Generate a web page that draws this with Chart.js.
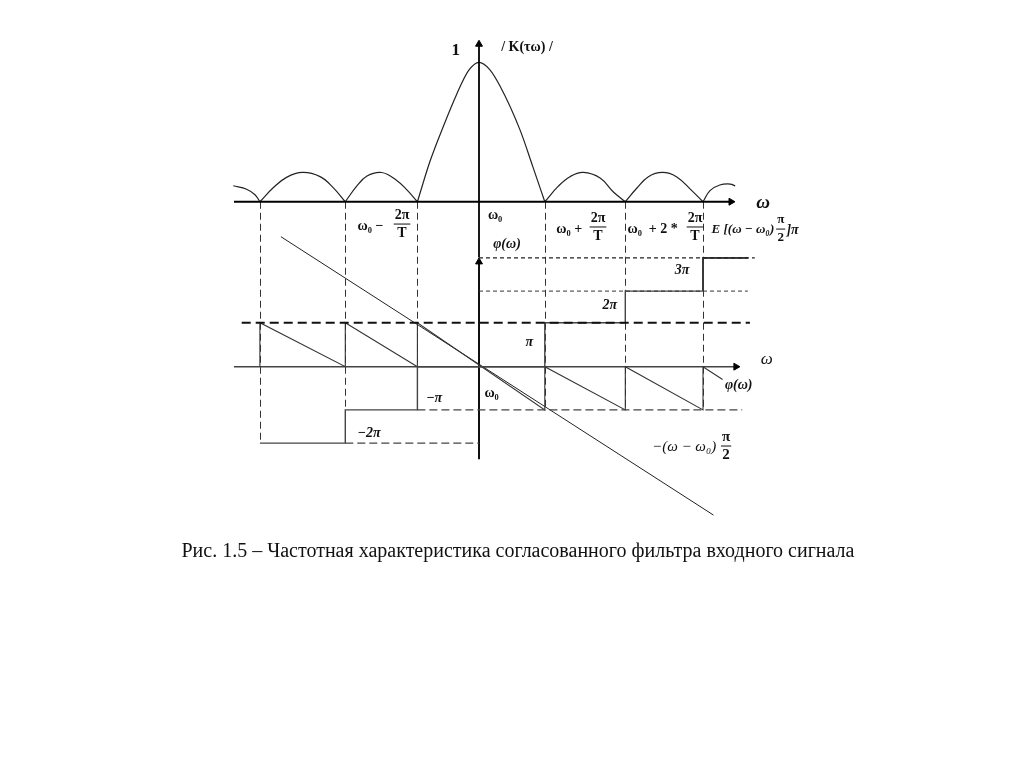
<!DOCTYPE html>
<html>
<head>
<meta charset="utf-8">
<script src="https://cdn.jsdelivr.net/npm/chart.js@4.4.0/dist/chart.umd.min.js"></script>
<style>
    html, body { margin: 0; padding: 0; background: #fff; }
    #wrap { position: relative; width: 1024px; height: 767px; }
    #c { position: absolute; left: 0; top: 0; }
    #caption {
        position: absolute; left: 0; top: 539px; width: 1036px;
        text-align: center; font-family: "Liberation Serif", serif; font-size: 20px; color: #111;
    }
</style>
</head>
<body>
<div id="wrap">
    <canvas id="c" width="1024" height="767"></canvas>
    <div id="caption">Рис. 1.5 – Частотная характеристика согласованного фильтра входного сигнала</div>
</div>
<script>
/* ── Datos ──────────────────────────────────────────────────────
   x: ω en unidades de 2π/T (ω0 = 0), |K| normalizado, φ en unidades de π (tal como está dibujado) */
const NULLS = [-3.13, -1.91, -0.88, 0, 0.94, 2.09, 3.2];

// |K(τω)| por lóbulos
const lobeFarLeft  = [[-3.51, 0.115], [-3.32, 0.09], [-3.2, 0.05], [-3.13, 0]];
const lobeLeft2    = [[-3.13, 0], [-2.94, 0.10], [-2.75, 0.175], [-2.52, 0.21], [-2.27, 0.18], [-2.08, 0.10], [-1.91, 0]];
const lobeLeft1    = [[-1.91, 0], [-1.75, 0.11], [-1.6, 0.185], [-1.39, 0.21], [-1.18, 0.155], [-1.03, 0.085], [-0.88, 0]];
const lobeMain     = [[-0.88, 0], [-0.7, 0.29], [-0.51, 0.54], [-0.32, 0.77], [-0.15, 0.94], [0, 1], [0.15, 0.95], [0.3, 0.83], [0.59, 0.51], [0.77, 0.25], [0.94, 0]];
const lobeRight1   = [[0.94, 0], [1.13, 0.11], [1.3, 0.18], [1.49, 0.21], [1.73, 0.17], [1.92, 0.07], [2.09, 0]];
const lobeRight2   = [[2.09, 0], [2.25, 0.095], [2.42, 0.18], [2.62, 0.21], [2.82, 0.18], [3.04, 0.08], [3.2, 0]];
const lobeFarRight = [[3.2, 0], [3.3, 0.08], [3.44, 0.12], [3.59, 0.127], [3.66, 0.113]];

// niveles de fase: −2π, −π, 0, π, 2π, 3π
const PHASE_LEVELS = [-1.91, -1.08, 0, 1.1, 1.89, 2.72];

// E[(ω − ω0)π/2]π  (escalera)
const stepX = [-3.13, -1.91, -0.88, 0.94, 2.09, 3.2, 3.84];
const stepY = [-1.91, -1.08, 0, 1.1, 1.89, 2.72, 2.72];

// φ(ω)  (diente de sierra)
const sawX = [-3.13, -3.13, -1.91, -1.91, -0.88, -0.88, 0.94, 0.94, 2.09, 2.09, 3.2, 3.2, 3.48];
const sawY = [0, 1.1, 0, 1.1, 0, 1.1, -1.08, 0, -1.08, 0, -1.08, 0, -0.32];

// −(ω − ω0)π/2
const rampX = [-2.83, 3.35];
const rampY = [3.25, -3.71];

// guías verticales: hasta qué nivel de fase bajan
const guideX      = [-3.13, -1.91, -0.88, 0.94, 2.09, 3.2];
const guideBottom = [-1.91, -1.91, -1.08, -1.08, -1.08, -1.08];

const F  = '"Liberation Serif", serif';
const B  = 'bold 14px ' + F;
const BI = 'bold italic 14px ' + F;

// textos: [texto, x, y, eje, fuente]
const TEXTS = [
    ['1',            -0.333,  1.083, 'yMag', 'bold 17px ' + F],
    ['/ K(τω) /',     0.686,  1.11,  'yMag', 'bold 14px ' + F],
    ['ω',             4.06,  -0.007, 'yMag', 'bold italic 19px ' + F],
    ['ω₀',            0.23,  -0.095, 'yMag', B],
    ['ω₀ −',         -1.55,  -0.174, 'yMag', B],
    ['ω₀ +',          1.29,  -0.196, 'yMag', B],
    ['ω₀  + 2 *',     2.48,  -0.196, 'yMag', B],
    ['E [(ω − ω₀)',   3.77,  -0.203, 'yMag', 'bold italic 13px ' + F],
    [']π',            4.48,  -0.203, 'yMag', BI],
    ['φ(ω)',          0.4,    3.07,  'yPhase', BI],
    ['3π',            2.9,    2.42,  'yPhase', BI],
    ['2π',            1.87,   1.54,  'yPhase', BI],
    ['π',             0.72,   0.62,  'yPhase', BI],
    ['−π',           -0.64,  -0.78,  'yPhase', BI],
    ['ω₀',            0.18,  -0.66,  'yPhase', B],
    ['−2π',          -1.57,  -1.66,  'yPhase', BI],
    ['ω',             4.11,   0.17,  'yPhase', 'italic 17px ' + F],
    ['φ(ω)',          3.71,  -0.46,  'yPhase', BI],
    ['−(ω − ω₀)',     2.93,  -2.01,  'yPhase', 'italic 15px ' + F]
];

// fracciones: [numerador, denominador, x, y, eje, fuente]
const FRACS = [
    ['2π', 'T', -1.1,   -0.16,  'yMag', B],
    ['2π', 'T',  1.7,   -0.181, 'yMag', B],
    ['2π', 'T',  3.086, -0.181, 'yMag', B],
    ['π',  '2',  4.31,  -0.196, 'yMag', 'bold 13px ' + F],
    ['π',  '2',  3.53,  -1.983, 'yPhase', 'bold 15px ' + F]
];

/* ── helpers ─────────────────────────────────────────────────── */
function line(pts, axis, style) {
    return Object.assign({
        type: 'line',
        data: pts.map(([x, y]) => ({ x, y })),
        yAxisID: axis,
        borderColor: '#222',
        borderWidth: 1,
        pointRadius: 0,
        fill: false,
        tension: 0
    }, style || {});
}
const zip = (a, b) => a.map((v, i) => [v, b[i]]);
const lvl = PHASE_LEVELS;

function arrow(rot) {
    return {
        pointRadius: [0, 4], pointStyle: 'triangle', pointRotation: rot,
        pointBackgroundColor: '#000', pointBorderColor: '#000', pointBorderWidth: 1
    };
}

const lobeStyle = { borderColor: '#222', borderWidth: 1.2, tension: 0.4 };

const datasets = [
    // guías horizontales discontinuas
    line([[-3.39, lvl[3]], [3.87, lvl[3]]], 'yPhase', { borderColor: '#111', borderWidth: 2, borderDash: [9, 5] }),
    line([[0, lvl[4]], [3.84, lvl[4]]], 'yPhase', { borderColor: '#333', borderWidth: 1, borderDash: [4, 3] }),
    line([[0, lvl[5]], [3.94, lvl[5]]], 'yPhase', { borderColor: '#222', borderWidth: 1.2, borderDash: [4, 3] }),
    line([[NULLS[2], lvl[1]], [3.76, lvl[1]]], 'yPhase', { borderColor: '#444', borderWidth: 1.2, borderDash: [8, 4] }),
    line([[NULLS[1], lvl[0]], [0, lvl[0]]], 'yPhase', { borderColor: '#444', borderWidth: 1.2, borderDash: [8, 4] }),

    // escalera, diente de sierra y recta
    line(zip(stepX, stepY), 'yPhase', { borderColor: '#444', borderWidth: 1.4, stepped: 'before' }),
    line([[3.2, lvl[4]], [3.2, lvl[5]], [3.84, lvl[5]]], 'yPhase', { borderColor: '#111', borderWidth: 1.8 }),
    line(zip(sawX, sawY), 'yPhase', { borderColor: '#333', borderWidth: 1.1 }),
    line(zip(rampX, rampY), 'yPhase', { borderColor: '#222', borderWidth: 1 }),

    // ejes
    line([[-3.5, 0], [3.6, 0]], 'yMag', Object.assign({ borderColor: '#000', borderWidth: 2 }, arrow(90))),
    line([[-3.5, 0], [3.67, 0]], 'yPhase', Object.assign({ borderColor: '#444', borderWidth: 1.6 }, arrow(90))),
    line([[0, -0.4], [0, 1.13]], 'yMag', Object.assign({ borderColor: '#000', borderWidth: 1.8 }, arrow(0))),
    line([[0, -2.315], [0, 2.62]], 'yPhase', Object.assign({ borderColor: '#111', borderWidth: 2 }, arrow(0))),

    // |K(τω)|
    line(lobeFarLeft, 'yMag', lobeStyle),
    line(lobeLeft2, 'yMag', lobeStyle),
    line(lobeLeft1, 'yMag', lobeStyle),
    line(lobeMain, 'yMag', { borderColor: '#222', borderWidth: 1.2, cubicInterpolationMode: 'monotone' }),
    line(lobeRight1, 'yMag', lobeStyle),
    line(lobeRight2, 'yMag', lobeStyle),
    line(lobeFarRight, 'yMag', lobeStyle)
];

/* ── guías verticales: del eje ω de |K| al nivel de fase ─────── */
const guidesPlugin = {
    id: 'guides',
    beforeDatasetsDraw(chart) {
        const { ctx, scales } = chart;
        ctx.save();
        ctx.strokeStyle = '#333';
        ctx.lineWidth = 1;
        ctx.setLineDash([7, 4]);
        guideX.forEach((gx, i) => {
            const px = Math.round(scales.x.getPixelForValue(gx)) + 0.5;
            ctx.beginPath();
            ctx.moveTo(px, scales.yMag.getPixelForValue(0));
            ctx.lineTo(px, scales.yPhase.getPixelForValue(guideBottom[i]));
            ctx.stroke();
        });
        ctx.restore();
    }
};

/* ── textos y fracciones ─────────────────────────────────────── */
const labelsPlugin = {
    id: 'labels',
    afterDraw(chart) {
        const { ctx, scales } = chart;
        ctx.save();
        ctx.fillStyle = '#111';
        ctx.textAlign = 'center';
        ctx.textBaseline = 'middle';
        TEXTS.forEach(([s, x, y, ax, font]) => {
            ctx.font = font;
            ctx.fillText(s, scales.x.getPixelForValue(x), scales[ax].getPixelForValue(y));
        });
        FRACS.forEach(([num, den, x, y, ax, font]) => {
            ctx.font = font;
            const px = scales.x.getPixelForValue(x);
            const py = scales[ax].getPixelForValue(y);
            const w = Math.max(ctx.measureText(num).width, ctx.measureText(den).width) + 2;
            ctx.fillText(num, px, py - 9);
            ctx.fillText(den, px, py + 9);
            ctx.fillRect(px - w / 2, py - 0.5, w, 1);
        });
        ctx.restore();
    }
};

new Chart(document.getElementById('c'), {
    data: { datasets },
    options: {
        responsive: false,
        animation: false,
        layout: { padding: { left: 220, right: 244, top: 30, bottom: 247 } },
        plugins: { legend: { display: false }, tooltip: { enabled: false } },
        scales: {
            x:      { type: 'linear', min: -3.7,   max: 4.3,    display: false },
            yMag:   { type: 'linear', min: -2.283, max: 1.232,  display: false },
            yPhase: { type: 'linear', min: -3.8325, max: 8.4175, display: false }
        }
    },
    plugins: [guidesPlugin, labelsPlugin]
});
</script>
</body>
</html>
